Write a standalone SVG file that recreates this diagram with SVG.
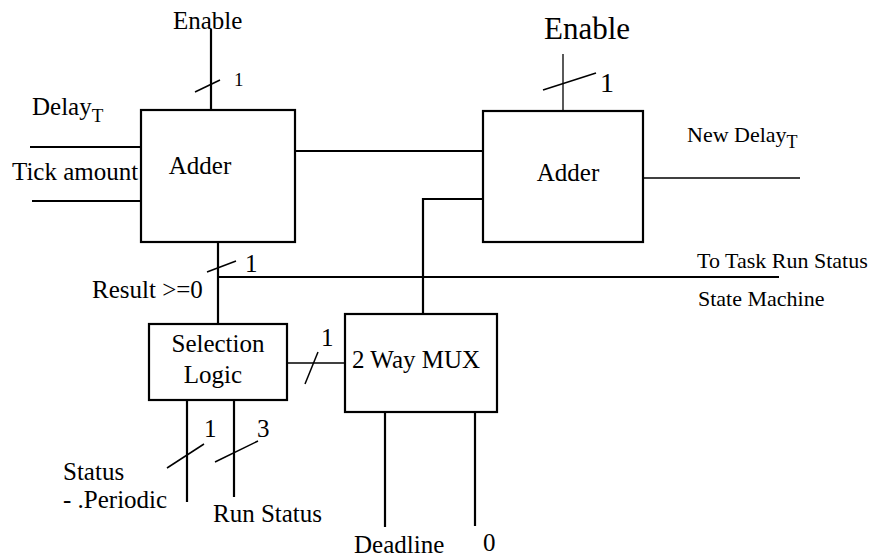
<svg xmlns="http://www.w3.org/2000/svg" width="887" height="559" viewBox="0 0 887 559" font-family="'Liberation Serif', 'Times New Roman', serif">
  <style>
    .box { fill: #fff; stroke: #000; stroke-width: 2.2; }
    .wire { fill: none; stroke: #000; stroke-width: 2.2; }
    .thin { fill: none; stroke: #000; stroke-width: 1.3; }
    .tick { fill: none; stroke: #000; stroke-width: 1.5; }
    text { font-family: "Liberation Serif", "Times New Roman", serif; fill: #000; }
    .lbl { font-size: 25px; }
    .sm { font-size: 22px; }
  </style>
  <rect width="887" height="559" fill="#fff"/>

  <!-- wiring between blocks -->
  <g id="connectors">
    <!-- left adder inputs -->
    <line class="wire" x1="30" y1="147" x2="141" y2="147"/>
    <line class="wire" x1="32" y1="201" x2="143" y2="201"/>
    <!-- left enable -->
    <line class="wire" x1="211" y1="29" x2="211" y2="110"/>
    <line class="tick" x1="195" y1="92" x2="220" y2="80"/>
    <!-- adder to adder -->
    <line class="wire" x1="295" y1="151" x2="483" y2="151"/>
    <!-- right enable -->
    <line class="thin" x1="563" y1="54" x2="563" y2="111"/>
    <line class="tick" x1="543" y1="90" x2="596" y2="73"/>
    <!-- right adder output -->
    <line class="thin" x1="643" y1="178" x2="800" y2="178"/>
    <!-- mux output into right adder -->
    <polyline class="wire" points="483,199 423,199 423,314"/>
    <!-- result >= 0 -->
    <line class="wire" x1="218" y1="242" x2="218" y2="324"/>
    <line class="tick" x1="207" y1="272" x2="236" y2="261"/>
    <line class="wire" x1="218" y1="277" x2="779" y2="277"/>
    <!-- select line to mux -->
    <line class="thin" x1="287" y1="363" x2="345" y2="363"/>
    <line class="tick" x1="305" y1="384" x2="318" y2="352"/>
    <!-- selection logic inputs -->
    <line class="wire" x1="187" y1="396" x2="187" y2="502"/>
    <line class="tick" x1="167" y1="468" x2="204" y2="444"/>
    <line class="wire" x1="234" y1="394" x2="234" y2="497"/>
    <line class="tick" x1="215" y1="462" x2="258" y2="441"/>
    <!-- mux inputs -->
    <line class="wire" x1="385" y1="409" x2="385" y2="527"/>
    <line class="wire" x1="475" y1="408" x2="475" y2="526"/>
  </g>

  <g id="adder-left">
    <rect class="box" x="141" y="110" width="154" height="132"/>
    <text class="lbl" x="200" y="174" text-anchor="middle">Adder</text>
  </g>

  <g id="adder-right">
    <rect class="box" x="483" y="111" width="160" height="131"/>
    <text class="lbl" x="568" y="181" text-anchor="middle">Adder</text>
  </g>

  <g id="selection-logic">
    <rect class="box" x="149" y="324" width="138" height="76"/>
    <text class="lbl" x="218" y="352" text-anchor="middle">Selection</text>
    <text class="lbl" x="213" y="383" text-anchor="middle">Logic</text>
  </g>

  <g id="mux">
    <rect class="box" x="345" y="314" width="152" height="98"/>
    <text class="lbl" x="352" y="368">2 Way MUX</text>
  </g>

  <!-- signal labels -->
  <g id="labels">
    <text class="lbl" x="173" y="29">Enable</text>
    <text font-size="19" x="234" y="86">1</text>
    <text class="lbl" x="32" y="115">Delay<tspan font-size="19" dy="7">T</tspan></text>
    <text class="lbl" x="12" y="180">Tick amount</text>
    <text font-size="31" x="544" y="39">Enable</text>
    <text font-size="28" x="600" y="92">1</text>
    <text class="sm" x="687" y="142">New Delay<tspan font-size="18" dy="6">T</tspan></text>
    <text class="lbl" x="245" y="272">1</text>
    <text class="lbl" x="92" y="298">Result &gt;=0</text>
    <text class="sm" x="697" y="268">To Task Run Status</text>
    <text class="sm" x="698" y="306">State Machine</text>
    <text class="lbl" x="321" y="346">1</text>
    <text class="lbl" x="204" y="437">1</text>
    <text class="lbl" x="257" y="437">3</text>
    <text class="lbl" x="63" y="480">Status</text>
    <text class="lbl" x="63" y="508">- .Periodic</text>
    <text class="lbl" x="213" y="522">Run Status</text>
    <text class="lbl" x="354" y="553">Deadline</text>
    <text class="lbl" x="483" y="551">0</text>
  </g>
</svg>
